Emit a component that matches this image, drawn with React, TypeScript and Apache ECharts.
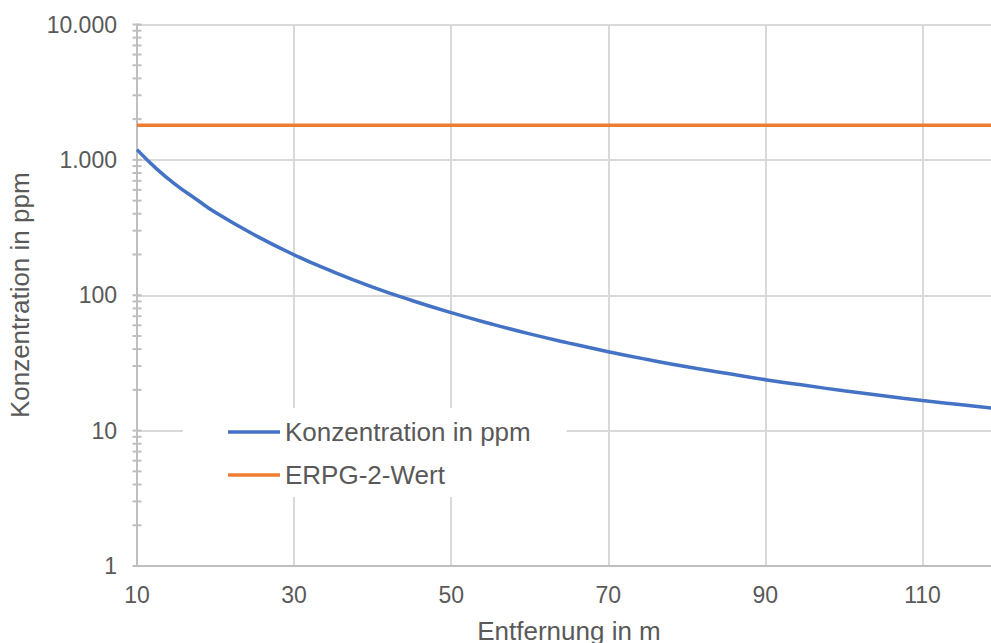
import React, { useEffect, useRef } from "react";
import * as echarts from "echarts";

const distances = [10, 12.5, 15, 17.5, 20, 25, 30, 35, 40, 45, 50, 55, 60, 65, 70, 75, 80, 85, 90, 95, 100, 105, 110, 115, 120];
const concentration = [1190, 858, 651, 514, 408, 278, 199, 149, 115, 91.5, 74.4, 61.6, 51.8, 44.3, 38.3, 33.5, 29.6, 26.5, 23.8, 21.6, 19.7, 18.1, 16.7, 15.5, 14.4];
const erpgDistances = [10, 120];
const erpgValues = [1800, 1800];
const seriesNames = ["Konzentration in ppm", "ERPG-2-Wert"];
const yTickValues = [1, 2, 3, 4, 5, 6, 7, 8, 9, 10, 20, 30, 40, 50, 60, 70, 80, 90, 100, 200, 300, 400, 500, 600, 700, 800, 900, 1000, 2000, 3000, 4000, 5000, 6000, 7000, 8000, 9000, 10000];

const FONT = "'Liberation Sans', Arial, sans-serif";
const TEXT = "#595959";
const GRID = "#d9d9d9";
const AXIS = "#bfbfbf";

function deFormat(v: number): string {
  return Math.round(v).toString().replace(/\B(?=(\d{3})+(?!\d))/g, ".");
}

export default function App() {
  const ref = useRef<HTMLDivElement>(null);
  useEffect(() => {
    if (!ref.current) return;
    const chart = echarts.init(ref.current, undefined, { renderer: "svg" });
    chart.setOption({
      animation: false,
      backgroundColor: "#ffffff",
      textStyle: { fontFamily: FONT },
      grid: { left: 137, right: -10, top: 24.5, bottom: 77, containLabel: false, outerBoundsMode: "none" },
      legend: {
        orient: "vertical",
        left: 183,
        top: 408,
        data: seriesNames.map((n) => ({ name: n, icon: "rect" })),
        itemWidth: 52,
        itemHeight: 3.5,
        itemGap: 17,
        padding: [11, 36, 9, 45],
        backgroundColor: "#ffffff",
        textStyle: { fontSize: 26, color: TEXT, fontFamily: FONT },
      },
      xAxis: {
        type: "value",
        min: 10,
        max: 120,
        interval: 20,
        name: "Entfernung in m",
        nameLocation: "middle",
        nameGap: 52,
        nameTextStyle: { fontSize: 26, color: TEXT, fontFamily: FONT },
        axisLine: { show: true, lineStyle: { color: AXIS, width: 2 } },
        axisTick: { show: false },
        axisLabel: { fontSize: 23, color: TEXT, margin: 17, showMaxLabel: false, fontFamily: FONT },
        splitLine: { show: true, lineStyle: { color: GRID, width: 2 } },
      },
      yAxis: {
        type: "log",
        logBase: 10,
        min: 1,
        max: 10000,
        name: "Konzentration in ppm",
        nameLocation: "middle",
        nameGap: 104,
        nameTextStyle: { fontSize: 26, color: TEXT, fontFamily: FONT },
        axisLine: { show: true, lineStyle: { color: AXIS, width: 2 } },
        axisTick: { show: false },
        axisLabel: { fontSize: 23, color: TEXT, margin: 20, formatter: (v: number) => deFormat(v), fontFamily: FONT },
        splitLine: { show: true, lineStyle: { color: GRID, width: 2 } },
      },
      series: [
        {
          name: seriesNames[0],
          type: "line",
          data: distances.map((d, i) => [d, concentration[i]]),
          smooth: 0.5,
          showSymbol: false,
          lineStyle: { color: "#4472C4", width: 3.5 },
          itemStyle: { color: "#4472C4" },
          z: 5,
        },
        {
          name: seriesNames[1],
          type: "line",
          data: erpgDistances.map((d, i) => [d, erpgValues[i]]),
          showSymbol: false,
          lineStyle: { color: "#ED7D31", width: 3.5 },
          itemStyle: { color: "#ED7D31" },
          z: 5,
        },
        {
          type: "custom",
          silent: true,
          clip: false,
          z: 3,
          data: yTickValues.map((v) => [10, v]),
          renderItem: (params: any, api: any) => {
            const p = api.coord([api.value(0), api.value(1)]);
            return {
              type: "line",
              shape: { x1: p[0] - 4.5, y1: p[1], x2: p[0] + 4.5, y2: p[1] },
              style: { stroke: AXIS, lineWidth: 2 },
            };
          },
        },
      ],
    });
    return () => chart.dispose();
  }, []);
  return (
    <div
      ref={ref}
      style={{ position: "fixed", left: 0, top: 0, width: 991, height: 643, overflow: "hidden" }}
    />
  );
}
